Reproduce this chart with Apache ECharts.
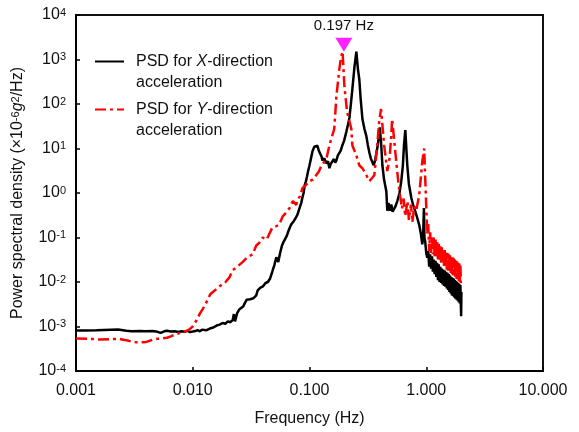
<!DOCTYPE html>
<html>
<head>
<meta charset="utf-8">
<title>PSD</title>
<script src="https://cdn.jsdelivr.net/npm/echarts@6/dist/echarts.min.js"></script>
<style>
  html, body { margin: 0; padding: 0; background: #fff; }
  #main { width: 579px; height: 432px; }
</style>
</head>
<body>
<div id="main"></div>
<script>
// X-direction PSD (black, solid)
const freqX = [
  0.001, 0.0012, 0.0015, 0.002, 0.0023, 0.0027, 0.003, 0.0035, 0.004, 0.0045,
  0.005, 0.0053, 0.0057, 0.006, 0.0065, 0.007, 0.0075, 0.008, 0.0085, 0.009,
  0.0095, 0.010, 0.0105, 0.011, 0.0115, 0.012, 0.013, 0.014, 0.015, 0.016,
  0.017, 0.018, 0.019, 0.020, 0.021, 0.022, 0.0225, 0.023, 0.024, 0.025,
  0.026, 0.027, 0.028, 0.029, 0.031, 0.033, 0.035, 0.036, 0.038, 0.040,
  0.042, 0.044, 0.046, 0.048, 0.050, 0.052, 0.054, 0.056, 0.058, 0.060,
  0.062, 0.064, 0.066, 0.068, 0.070, 0.073, 0.076, 0.079, 0.082, 0.085,
  0.087, 0.089, 0.091, 0.093, 0.095, 0.097, 0.100, 0.103, 0.106, 0.110,
  0.114, 0.117, 0.120, 0.124, 0.127, 0.129, 0.134, 0.140, 0.144, 0.148,
  0.152, 0.157, 0.162, 0.166, 0.170, 0.175, 0.180, 0.185, 0.191, 0.198,
  0.207, 0.214, 0.220, 0.227, 0.233, 0.243, 0.252, 0.260, 0.267, 0.275,
  0.284, 0.295, 0.307, 0.316, 0.326, 0.335, 0.345, 0.355, 0.365, 0.374,
  0.385, 0.400, 0.410, 0.421, 0.435, 0.455, 0.464, 0.475, 0.490, 0.502,
  0.515, 0.532, 0.545, 0.565, 0.590, 0.611, 0.630, 0.645, 0.662, 0.675,
  0.688, 0.710, 0.745, 0.770, 0.789, 0.830, 0.871, 0.900, 0.925, 0.940,
  0.955, 0.965, 0.98, 1.00, 1.02, 1.04, 1.06, 1.08, 1.10, 1.12,
  1.14, 1.16, 1.18, 1.20, 1.22, 1.24, 1.26, 1.28, 1.30, 1.32,
  1.34, 1.36, 1.38, 1.40, 1.42, 1.44, 1.46, 1.48, 1.50, 1.52,
  1.54, 1.56, 1.58, 1.60, 1.62, 1.64, 1.66, 1.68, 1.70, 1.72,
  1.74, 1.76, 1.78, 1.80, 1.82, 1.84, 1.86, 1.88, 1.90, 1.92,
  1.94, 1.96, 1.98, 1.99, 2.00
];
const psdX = [
  8.1e-4, 8.1e-4, 8.2e-4, 8.5e-4, 8.6e-4, 8.0e-4, 7.8e-4, 7.9e-4, 7.8e-4, 7.9e-4,
  7.6e-4, 7.2e-4, 7.8e-4, 8.0e-4, 7.7e-4, 7.8e-4, 7.5e-4, 7.8e-4, 7.6e-4, 8.0e-4,
  7.5e-4, 7.7e-4, 7.9e-4, 8.3e-4, 7.8e-4, 8.5e-4, 8.2e-4, 9.0e-4, 9.5e-4, 1.05e-3,
  1.1e-3, 1.2e-3, 1.15e-3, 1.3e-3, 1.25e-3, 1.4e-3, 1.9e-3, 1.3e-3, 2.0e-3, 2.4e-3,
  2.6e-3, 2.8e-3, 3.4e-3, 4.0e-3, 4.1e-3, 4.3e-3, 5.0e-3, 6.5e-3, 7.5e-3, 8.0e-3,
  9.5e-3, 1.0e-2, 1.2e-2, 1.7e-2, 2.4e-2, 3.6e-2, 2.8e-2, 4.5e-2, 6.5e-2, 8.0e-2,
  7.5e-2, 0.11, 0.14, 0.17, 0.20, 0.23, 0.27, 0.33, 0.45, 0.60,
  0.80, 1.0, 1.5, 1.8, 2.3, 3.0, 4.2, 6.0, 8.6, 11,
  10.5, 11.5, 9, 8.6, 6.5, 5.4, 6.0, 4.6, 5.2, 3.6,
  4.5, 4.2, 5.8, 4.8, 5.4, 7.0, 7.7, 9, 11.7, 15,
  24, 35, 50, 110, 220, 700, 1500, 600, 360, 120,
  46, 28, 19, 12, 8, 6.0, 5.0, 4.2, 5.5, 6.0,
  12, 30, 14, 4.2, 2.0, 1.1, 0.40, 0.6, 0.40, 0.55,
  0.38, 0.36, 0.5, 0.66, 1.0, 1.85, 4, 12, 26, 10,
  4.2, 1.6, 0.77, 0.55, 0.46, 0.30, 0.19, 0.12, 0.07, 0.10,
  0.46, 0.10, 0.08, 0.045, 0.035, 0.05, 0.022, 0.042, 0.02, 0.038,
  0.017, 0.032, 0.015, 0.03, 0.013, 0.027, 0.011, 0.025, 0.010, 0.022,
  0.0095, 0.020, 0.0088, 0.019, 0.0082, 0.018, 0.0078, 0.017, 0.0072, 0.016,
  0.0066, 0.015, 0.0060, 0.014, 0.0055, 0.013, 0.0050, 0.0125, 0.0048, 0.012,
  0.0045, 0.011, 0.0042, 0.0105, 0.0040, 0.010, 0.0038, 0.0095, 0.0035, 0.009,
  0.0033, 0.0085, 0.0030, 0.0017, 0.0060
];

// Y-direction PSD (red, dash-dot)
const freqY = [
  0.001, 0.0013, 0.0016, 0.002, 0.0023, 0.0026, 0.003, 0.0033, 0.0037, 0.004,
  0.0045, 0.005, 0.0055, 0.006, 0.0065, 0.007, 0.0078, 0.0086, 0.0093, 0.010,
  0.0108, 0.0115, 0.0122, 0.0129, 0.0135, 0.0142, 0.0155, 0.0166, 0.018, 0.0191,
  0.0207, 0.022, 0.024, 0.0267, 0.029, 0.0326, 0.035, 0.037, 0.0397, 0.043,
  0.048, 0.052, 0.055, 0.059, 0.063, 0.0675, 0.072, 0.077, 0.079, 0.083,
  0.087, 0.093, 0.100, 0.107, 0.114, 0.120, 0.127, 0.134, 0.140, 0.148,
  0.163, 0.170, 0.180, 0.186, 0.192, 0.199, 0.210, 0.228, 0.233, 0.252,
  0.267, 0.284, 0.307, 0.326, 0.345, 0.359, 0.380, 0.395, 0.410, 0.436,
  0.464, 0.485, 0.502, 0.510, 0.550, 0.580, 0.600, 0.620, 0.640, 0.660,
  0.690, 0.710, 0.740, 0.760, 0.790, 0.820, 0.870, 0.925, 0.960, 0.985,
  1.00, 1.02, 1.04, 1.06, 1.08, 1.10, 1.12, 1.14, 1.16, 1.18,
  1.20, 1.22, 1.24, 1.26, 1.28, 1.30, 1.32, 1.34, 1.36, 1.38,
  1.40, 1.42, 1.44, 1.46, 1.48, 1.50, 1.52, 1.54, 1.56, 1.58,
  1.60, 1.62, 1.64, 1.66, 1.68, 1.70, 1.72, 1.74, 1.76, 1.78,
  1.80, 1.82, 1.84, 1.86, 1.88, 1.90, 1.92, 1.94, 1.96, 1.98,
  2.00
];
const psdY = [
  5.4e-4, 5.3e-4, 5.1e-4, 5.2e-4, 5.3e-4, 5.0e-4, 4.6e-4, 4.4e-4, 4.4e-4, 4.5e-4,
  5.0e-4, 5.3e-4, 5.4e-4, 5.6e-4, 6.0e-4, 6.6e-4, 7.2e-4, 7.7e-4, 8.5e-4, 1.0e-3,
  1.4e-3, 1.95e-3, 2.5e-3, 3.2e-3, 4.2e-3, 5.4e-3, 6.5e-3, 7.7e-3, 9.0e-3, 1.0e-2,
  1.29e-2, 1.85e-2, 2.2e-2, 2.8e-2, 3.5e-2, 4.2e-2, 6.6e-2, 7.5e-2, 0.10, 0.09,
  0.167, 0.18, 0.195, 0.30, 0.36, 0.46, 0.66, 0.54, 0.70, 0.85,
  1.29, 1.5, 1.85, 2.0, 2.5, 3.0, 4.19, 5.0, 6.0, 11.7,
  27.8, 150, 600, 1100, 1500, 251, 66, 27.8, 11.7, 7.0,
  4.19, 3.6, 2.5, 1.85, 2.2, 2.5, 11.7, 40, 77, 11.7,
  3.1, 6.0, 20, 46, 6.0, 1.5, 0.80, 0.45, 0.75, 0.30,
  0.65, 0.25, 0.55, 0.22, 0.50, 0.40, 0.90, 5.1, 10, 1.5,
  0.50, 0.12, 0.20, 0.05, 0.13, 0.045, 0.11, 0.042, 0.10, 0.038,
  0.09, 0.035, 0.08, 0.032, 0.072, 0.030, 0.066, 0.027, 0.060, 0.025,
  0.056, 0.023, 0.052, 0.021, 0.048, 0.019, 0.045, 0.018, 0.042, 0.017,
  0.040, 0.016, 0.038, 0.015, 0.036, 0.014, 0.034, 0.013, 0.032, 0.012,
  0.030, 0.0115, 0.029, 0.011, 0.027, 0.0105, 0.026, 0.010, 0.025, 0.0095,
  0.011
];

const seriesNames = ['PSD for X-direction acceleration', 'PSD for Y-direction acceleration'];
const legendLabels = [
  '{n|PSD for }{i|X}{n|-direction}\n{n|acceleration}',
  '{n|PSD for }{i|Y}{n|-direction}\n{n|acceleration}'
];
const peakFreq = 0.197;
const peakValue = 1500;
const peakLabel = '0.197 Hz';

const fontFamily = '"Liberation Sans", Arial, sans-serif';
const zip = (xs, ys) => xs.map((x, i) => [x, ys[i]]);

const myChart = echarts.init(document.getElementById('main'), null, { renderer: 'canvas' });

const legendText = {
  fontFamily,
  color: '#111',
  lineHeight: 21,
  padding: [21, 0, 0, 7],
  rich: {
    n: { fontSize: 16, fontFamily, color: '#111', lineHeight: 21 },
    i: { fontSize: 16, fontFamily, color: '#111', lineHeight: 21, fontStyle: 'italic' }
  }
};

const legendBase = {
  left: 89,
  itemWidth: 29,
  itemHeight: 14,
  itemStyle: { opacity: 0 },
  textStyle: legendText
};

const option = {
  animation: false,
  backgroundColor: '#fff',
  textStyle: { fontFamily },
  grid: {
    left: 76,
    right: 36,
    top: 15,
    bottom: 57,
    show: true,
    borderColor: '#111',
    borderWidth: 2
  },
  legend: [
    Object.assign({}, legendBase, {
      data: [seriesNames[0]],
      top: 25,
      formatter: () => legendLabels[0]
    }),
    Object.assign({}, legendBase, {
      data: [seriesNames[1]],
      top: 73,
      formatter: () => legendLabels[1]
    })
  ],
  xAxis: {
    type: 'log',
    logBase: 10,
    min: 0.001,
    max: 10,
    interval: 1,
    name: 'Frequency (Hz)',
    nameLocation: 'middle',
    nameGap: 40,
    nameTextStyle: { fontSize: 16, color: '#111', fontFamily },
    axisLine: { lineStyle: { color: '#000', width: 2 } },
    axisTick: { inside: true, length: 4, lineStyle: { color: '#000', width: 1.5 } },
    axisLabel: {
      fontSize: 16,
      color: '#111',
      margin: 12,
      formatter: v => Number(v).toFixed(3)
    },
    splitLine: { show: false },
    minorTick: { show: false }
  },
  yAxis: {
    type: 'log',
    logBase: 10,
    min: 1e-4,
    max: 1e4,
    interval: 1,
    name: '{n|Power spectral density (×10}{s|-6}{i|g}{s|2}{n|/Hz)}',
    nameLocation: 'middle',
    nameGap: 50,
    nameTextStyle: {
      rich: {
        n: { fontSize: 16, color: '#111', fontFamily },
        i: { fontSize: 16, color: '#111', fontFamily, fontStyle: 'italic' },
        s: { fontSize: 11, color: '#111', fontFamily, verticalAlign: 'top' }
      }
    },
    axisLine: { lineStyle: { color: '#000', width: 2 } },
    axisTick: { inside: true, length: 4, lineStyle: { color: '#000', width: 1.5 } },
    axisLabel: {
      margin: 10,
      formatter: v => {
        const e = Math.round(Math.log10(v));
        return '{b|10}{s|' + e + '}';
      },
      rich: {
        b: { fontSize: 16, color: '#111', fontFamily },
        s: { fontSize: 11, color: '#111', fontFamily, verticalAlign: 'top' }
      }
    },
    splitLine: { show: false },
    minorTick: { show: false }
  },
  series: [
    {
      name: seriesNames[0],
      type: 'line',
      data: zip(freqX, psdX),
      symbol: 'none',
      lineStyle: { color: '#000', width: 2.5 },
      itemStyle: { color: '#000' }
    },
    {
      name: seriesNames[1],
      type: 'line',
      data: zip(freqY, psdY),
      symbol: 'none',
      lineStyle: { color: '#ff0000', width: 2.5, type: [11, 4, 3, 4] },
      itemStyle: { color: '#ff0000' },
      markPoint: {
        symbol: 'triangle',
        symbolRotate: 180,
        symbolSize: [17, 14],
        symbolOffset: [0, -7],
        itemStyle: { color: '#ff22ff' },
        label: {
          show: true,
          position: 'top',
          distance: 4,
          color: '#111',
          fontSize: 15,
          fontFamily,
          formatter: peakLabel
        },
        data: [{ coord: [peakFreq, peakValue] }]
      }
    }
  ]
};

myChart.setOption(option);
</script>
</body>
</html>
